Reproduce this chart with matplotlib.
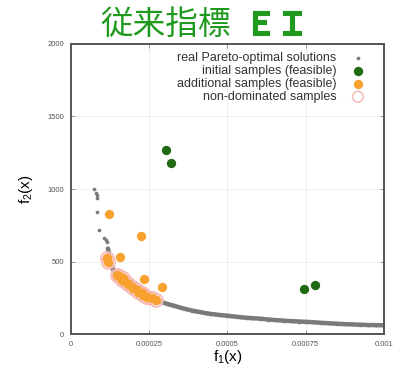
"""Pareto front with EI samples"""

import numpy as np
import matplotlib
matplotlib.use("Agg")
import matplotlib.pyplot as plt
import matplotlib.patheffects as pe

# real Pareto-optimal solutions (f1 in units of 1e-4)
pareto_f1 = np.array([0.75, 0.80, 0.82, 0.84, 0.83, 0.90, 1.06, 1.11, 1.14, 1.18,
                      1.22, 1.26, 1.30, 1.35, 1.40, 1.45, 1.51, 1.57, 1.63, 1.70,
                      1.78, 1.86, 1.94, 2.02, 2.10, 2.18, 2.26, 2.36, 2.46, 2.57,
                      2.68, 2.79, 2.90, 3.00, 3.11, 3.22, 3.35, 3.47, 3.59, 3.72,
                      3.86, 4.00, 4.15, 4.30, 4.45, 4.60, 4.80, 5.00, 5.20, 5.40,
                      5.60, 5.80, 6.04, 6.30, 6.55, 6.80, 7.05, 7.30, 7.50, 7.75,
                      8.00, 8.25, 8.50, 8.75, 9.00, 9.25, 9.50, 9.75, 10.0]) * 1e-4
pareto_f2 = np.array([998, 975, 959, 936, 843, 717, 660, 648, 632, 590,
                      545, 500, 464, 445, 425, 410, 395, 380, 365, 352,
                      338, 325, 315, 303, 292, 280, 268, 257, 250, 243,
                      238, 232, 222, 214, 206, 200, 192, 184, 177, 170,
                      163, 157, 151, 145, 140, 136, 131, 127, 122, 117,
                      113, 110, 107, 101, 97, 93, 90, 87, 85, 82,
                      78, 75, 72, 69, 67, 65, 63, 62, 61])

# initial samples (feasible)
init_f1 = np.array([3.04, 3.19, 7.44, 7.80]) * 1e-4
init_f2 = np.array([1269, 1179, 310, 338])

# additional samples (feasible)
add_f1 = np.array([1.22, 2.23, 1.57, 2.34, 2.92, 1.14, 1.19, 1.46, 1.54, 1.62,
                   1.67, 1.78, 1.83, 1.94, 1.99, 2.10, 2.15, 2.26, 2.31, 2.42,
                   2.44, 2.58, 2.72]) * 1e-4
add_f2 = np.array([828, 676, 529, 379, 324, 522, 499, 407, 400, 372,
                   384, 350, 345, 326, 315, 303, 292, 281, 269, 257,
                   255, 246, 232])

# non-dominated samples
nd_f1 = np.array([1.14, 1.19, 1.46, 1.54, 1.62, 1.67, 1.78, 1.83, 1.94, 1.99,
                  2.10, 2.15, 2.26, 2.31, 2.42, 2.44, 2.58, 2.72]) * 1e-4
nd_f2 = np.array([522, 499, 407, 400, 372, 384, 350, 345, 326, 315,
                  303, 292, 281, 269, 257, 255, 246, 232])

x_ticks = [0, 0.00025, 0.0005, 0.00075, 0.001]
x_tick_labels = ["0", "0.00025", "0.0005", "0.00075", "0.001"]
y_ticks = [0, 500, 1000, 1500, 2000]
y_tick_labels = ["0", "500", "1000", "1500", "2000"]

plt.rcParams["font.family"] = ["Liberation Sans", "DejaVu Sans"]
plt.rcParams["mathtext.default"] = "regular"

fig = plt.figure(figsize=(3.99, 3.66), dpi=100)
ax = fig.add_axes([0.178, 0.087, 0.784, 0.793])

# dense part of the front drawn as a thick band
dense = pareto_f1 >= 1.14e-4
ax.plot(pareto_f1[dense], pareto_f2[dense], color="#7a7a7a", lw=3.2,
        solid_capstyle="round", zorder=2)
ax.scatter(pareto_f1, pareto_f2, s=7, color="#7a7a7a", lw=0, zorder=2,
           label="real Pareto-optimal solutions")

ax.scatter(init_f1, init_f2, s=45, color="#1f6a12", lw=0, zorder=3,
           label="initial samples (feasible)")
ax.scatter(nd_f1, nd_f2, s=95, facecolor="#fbd3cf", edgecolor="#f5b0aa",
           lw=1.0, alpha=0.8, zorder=3)
ax.scatter(add_f1, add_f2, s=45, color="#f9a12e", lw=0, zorder=4,
           label="additional samples (feasible)")
ax.scatter([], [], s=60, facecolor="none", edgecolor="#f7b5b0", lw=1.0,
           label="non-dominated samples")

ax.set_xlim(0, 0.001)
ax.set_ylim(0, 2000)
ax.set_xticks(x_ticks)
ax.set_xticklabels(x_tick_labels)
ax.set_yticks(y_ticks)
ax.set_yticklabels(y_tick_labels)
ax.tick_params(direction="in", length=3, width=0.6, top=True, right=True,
               labelsize=5.5, labelcolor="#555555", color="#888888", pad=5)
ax.grid(True, color="#ececec", lw=0.6)
for s in ax.spines.values():
    s.set_color("#555555")
    s.set_linewidth(1.4)

ax.set_xlabel("f$_1$(x)", fontsize=11, labelpad=0)
ax.set_ylabel("f$_2$(x)", fontsize=11, labelpad=9)

leg = ax.legend(loc="upper right", frameon=False, markerfirst=False,
                fontsize=9, handletextpad=0.9, labelspacing=0.08,
                borderaxespad=0.25, handlelength=1.6, scatterpoints=1,
                bbox_to_anchor=(0.975, 1.0))
for t in leg.get_texts():
    t.set_color("#333333")

cjk = ["Noto Sans CJK JP", "DejaVu Sans"]
green = "#1f9a1f"
fig.text(0.578, 0.932, "従来指標", family=cjk, fontsize=23.5,
         color=green, ha="right", va="center")
fig.text(0.612, 0.93, "ＥＩ", family=cjk, fontsize=23, fontweight="bold",
         color=green, ha="left", va="center",
         path_effects=[pe.withStroke(linewidth=0.8, foreground=green)])

fig.savefig("out.png", dpi=100)
